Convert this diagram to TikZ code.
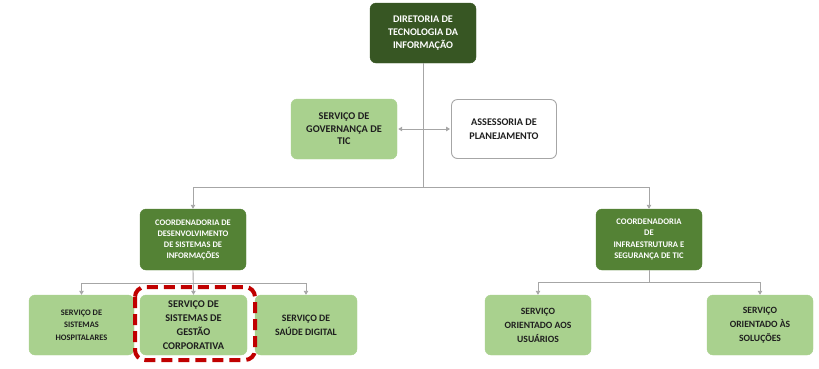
\documentclass[tikz,border=0pt]{standalone}
\usepackage{fontspec}
\setmainfont{Carlito}[BoldFont={Carlito Bold}]
\usetikzlibrary{arrows.meta}
\definecolor{dkgreen}{HTML}{375623}
\definecolor{mdgreen}{HTML}{548235}
\definecolor{ltgreen}{HTML}{A9D18E}
\definecolor{lnGray}{HTML}{A6A6A6}
\definecolor{redDash}{HTML}{C00000}
\definecolor{txtDark}{HTML}{1E1E1E}
\tikzset{
  box/.style={rectangle, rounded corners=6pt, align=center, inner sep=1pt},
  dkbox/.style={box, fill=dkgreen, text=white, draw=dkgreen},
  mdbox/.style={box, fill=mdgreen, text=white, draw=mdgreen},
  ltbox/.style={box, fill=ltgreen, text=txtDark, draw=ltgreen},
  whbox/.style={box, fill=white, text=txtDark, draw=lnGray, line width=0.9pt},
  fsz/.style 2 args={font=\fontsize{#1}{#2}\selectfont\bfseries},
  conn/.style={draw=lnGray, line width=0.9pt},
  arr/.style={conn, -{Triangle[length=4pt,width=4.5pt]}},
}
\begin{document}
\begin{tikzpicture}[x=1pt,y=-1pt]
\useasboundingbox (0,0) rectangle (819,368);
% boxes
\node[dkbox, fsz={10.2}{13.3}, minimum width=106pt, minimum height=60pt] (top) at (423,33)
  {DIRETORIA DE\\TECNOLOGIA DA\\INFORMAÇÃO};
\node[ltbox, fsz={10.3}{12.5}, minimum width=106pt, minimum height=60pt] (gov) at (344,129)
  {SERVIÇO DE\\GOVERNANÇA DE\\TIC};
\node[whbox, fsz={10.2}{13.5}, minimum width=105pt, minimum height=59pt] (ass) at (504,129)
  {ASSESSORIA DE\\PLANEJAMENTO};
\node[mdbox, fsz={8.5}{11}, minimum width=106pt, minimum height=61pt] (cdl) at (193,239.5)
  {COORDENADORIA DE\\DESENVOLVIMENTO\\DE SISTEMAS DE\\INFORMAÇÕES};
\node[mdbox, fsz={8.6}{11.3}, minimum width=106pt, minimum height=61pt] (cdr) at (649,239.5)
  {COORDENADORIA\\DE\\INFRAESTRUTURA E\\SEGURANÇA DE TIC};
\node[ltbox, fsz={8.4}{12.5}, minimum width=105pt, minimum height=60pt] (hosp) at (81.5,325)
  {SERVIÇO DE\\SISTEMAS\\HOSPITALARES};
\node[ltbox, fsz={10.3}{14}, minimum width=107pt, minimum height=60pt] (gest) at (193.5,325)
  {SERVIÇO DE\\SISTEMAS DE\\GESTÃO\\CORPORATIVA};
\node[ltbox, fsz={9.8}{14}, minimum width=102pt, minimum height=60pt] (saude) at (306,325)
  {SERVIÇO DE\\SAÚDE DIGITAL};
\node[ltbox, fsz={9.6}{14}, minimum width=106pt, minimum height=60pt] (usu) at (538,325)
  {SERVIÇO\\ORIENTADO AOS\\USUÁRIOS};
\node[ltbox, fsz={9.6}{14}, minimum width=106pt, minimum height=60pt] (sol) at (760,325)
  {SERVIÇO\\ORIENTADO ÀS\\SOLUÇÕES};
% hubs
\coordinate (hub) at (423,187);
\coordinate (hubL) at (193,283);
\coordinate (hubR) at (649,282);
% connectors
\draw[conn] (top.south) -- (hub);
\draw[arr] (hub) -| (cdl.north);
\draw[arr] (hub) -| (cdr.north);
\draw[conn, {Triangle[length=4pt,width=4.5pt]}-{Triangle[length=4pt,width=4.5pt]}, shorten <=1pt, shorten >=1pt] (gov.east) -- (ass.west);
\draw[arr] (cdl.south) -- (gest.north);
\draw[arr] (hubL) -| (hosp.north);
\draw[arr] (hubL) -| (saude.north);
\draw[conn] (cdr.south) -- (hubR);
\draw[arr] (hubR) -| (usu.north);
\draw[arr] (hubR) -| (sol.north);
% highlight
\draw[draw=redDash, line width=4pt, rounded corners=10pt, dash pattern=on 11pt off 6pt] (135,287) rectangle (255,360);
\end{tikzpicture}
\end{document}
